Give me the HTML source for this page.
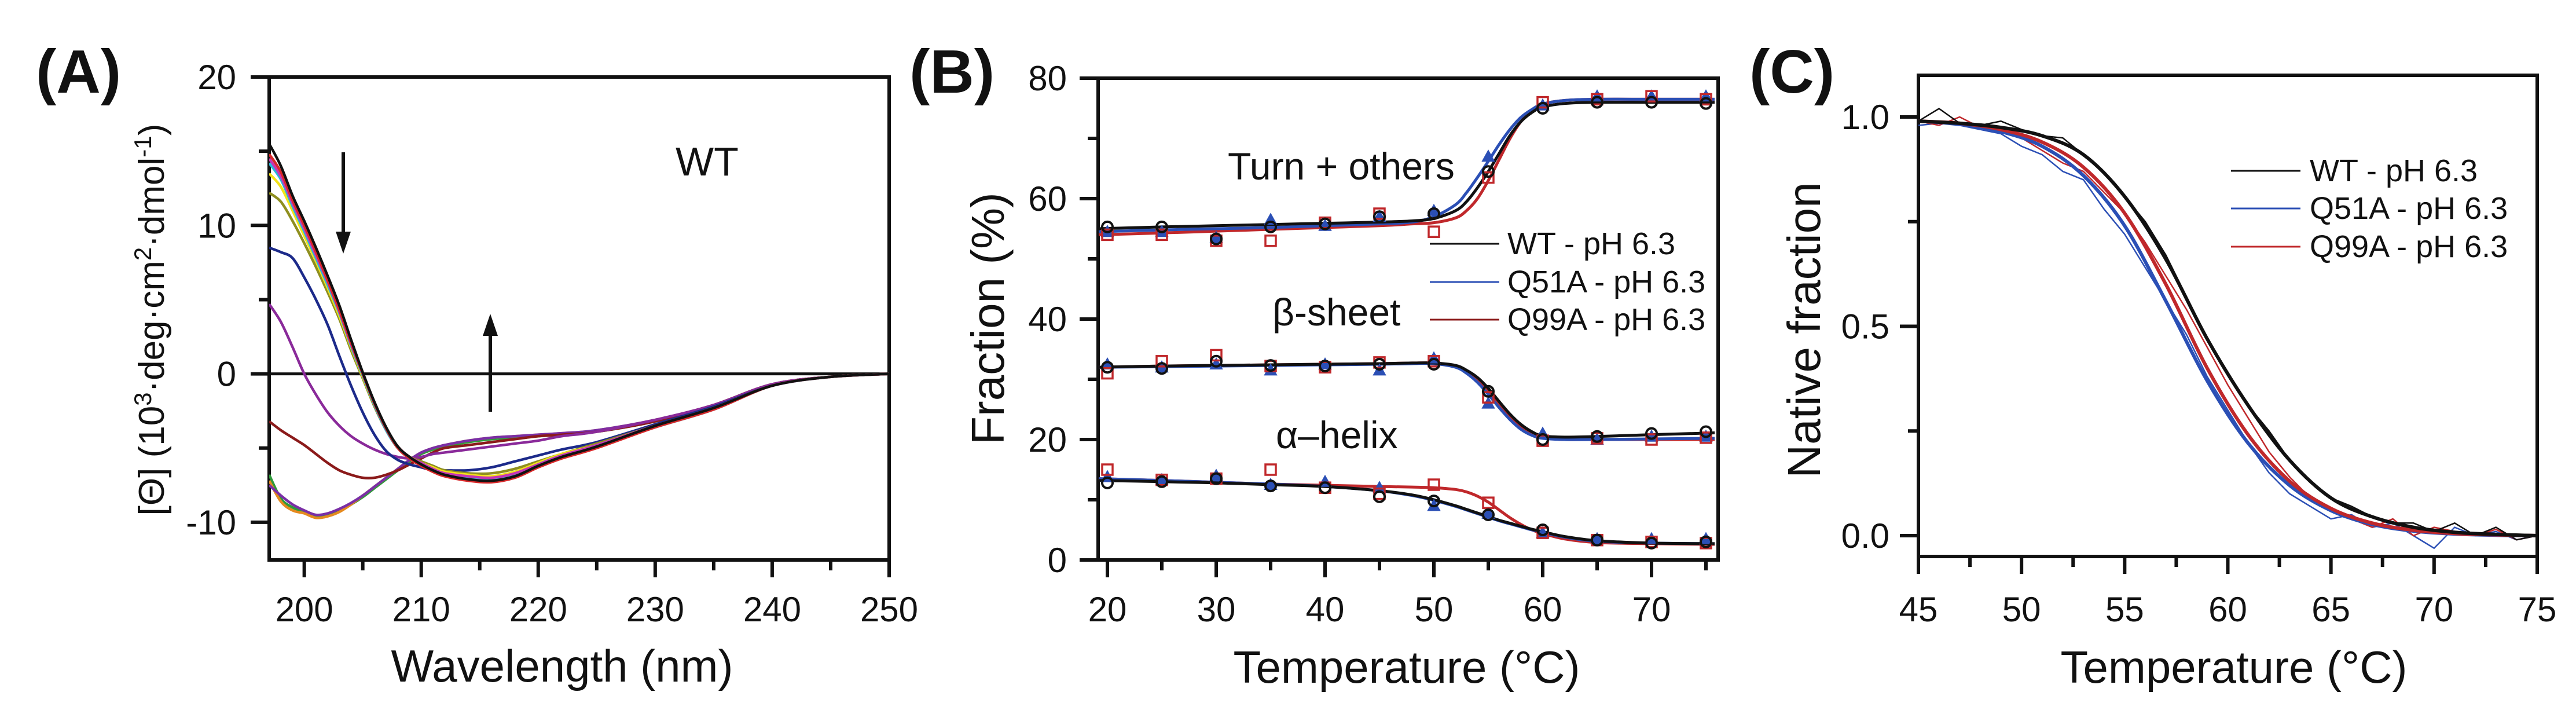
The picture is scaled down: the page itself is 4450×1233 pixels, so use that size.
<!DOCTYPE html>
<html><head><meta charset="utf-8"><style>
html,body{margin:0;padding:0;background:#fff;}
svg{display:block;font-family:"Liberation Sans",Arial,sans-serif;}
</style></head><body>
<svg id="fig" width="4450" height="1233" viewBox="0 0 4450 1233" xmlns="http://www.w3.org/2000/svg">
<rect width="4450" height="1233" fill="#fff"/>
<g id="pA"></g>
<g id="pB"></g>
<g id="pC"></g>
</svg>
<script>
// ---------- Panel A data ----------
const aWavelength=[197,198,199,200,201,202,203,204,205,206,207,208,209,210,211,212,214,216,218,220,222,225,230,235,240,245,250];
const aNativeBlack=[15.5,14,12,10.3,8.5,6.6,4.6,2.3,0.1,-1.9,-3.6,-4.9,-5.6,-6.1,-6.5,-6.8,-7.1,-7.2,-6.9,-6.2,-5.6,-4.9,-3.5,-2.3,-0.8,-0.2,0];
const aNativeRed=[14.8,13.6,11.7,10,8.2,6.3,4.3,2.1,0,-2,-3.7,-5,-5.7,-6.2,-6.6,-6.9,-7.2,-7.3,-7,-6.3,-5.7,-5,-3.6,-2.4,-0.8,-0.2,0];
const aNativeCyan=[14.2,13.1,11.3,9.6,7.8,6,4.1,1.9,-0.1,-2.1,-3.8,-5,-5.7,-6.1,-6.5,-6.8,-7,-7.1,-6.8,-6.1,-5.5,-4.9,-3.6,-2.4,-0.8,-0.2,0];
const aNativeMagenta=[14.5,13.3,11.5,9.8,8,6.2,4.2,2,0,-2,-3.7,-4.9,-5.6,-6,-6.4,-6.7,-6.9,-7,-6.7,-6.1,-5.5,-4.8,-3.5,-2.3,-0.8,-0.2,0];
const aNativeYellow=[13.5,12.6,11,9.3,7.6,5.8,3.9,1.8,-0.2,-2.1,-3.7,-4.9,-5.6,-6,-6.3,-6.6,-6.8,-6.9,-6.6,-6,-5.4,-4.8,-3.5,-2.3,-0.8,-0.2,0];
const aNativeOlive=[12.2,11.6,10.3,8.8,7.2,5.5,3.7,1.6,-0.3,-2.2,-3.8,-5,-5.6,-5.9,-6.2,-6.5,-6.7,-6.7,-6.4,-5.9,-5.4,-4.7,-3.5,-2.3,-0.8,-0.2,0];
const aNavy=[8.5,8.2,7.8,6.5,5,3.3,1.2,-0.8,-2.6,-4.1,-5.2,-5.8,-6.1,-6.3,-6.5,-6.5,-6.5,-6.3,-5.9,-5.5,-5.1,-4.6,-3.4,-2.2,-0.8,-0.2,0];
const aPurpleMid=[4.7,3.5,1.8,0,-1.4,-2.6,-3.5,-4.2,-4.7,-5.1,-5.4,-5.6,-5.7,-5.6,-5.4,-5.3,-5.1,-4.9,-4.7,-4.5,-4.2,-3.9,-3.1,-2.1,-0.7,-0.2,0];
const aDarkRed=[-3.2,-3.8,-4.3,-4.8,-5.4,-6,-6.5,-6.8,-7,-7,-6.8,-6.5,-6.1,-5.7,-5.3,-5,-4.8,-4.6,-4.4,-4.2,-4.1,-3.9,-3.2,-2.1,-0.7,-0.2,0];
const aDenatGreen=[-6.8,-8.4,-9,-9.3,-9.6,-9.5,-9.2,-8.8,-8.3,-7.7,-7.1,-6.5,-5.9,-5.4,-5.1,-4.9,-4.6,-4.4,-4.3,-4.2,-4.1,-3.9,-3.2,-2.1,-0.7,-0.2,0];
const aDenatOrange=[-7.2,-8.6,-9.2,-9.4,-9.7,-9.6,-9.3,-8.8,-8.2,-7.6,-7,-6.4,-5.8,-5.3,-5,-4.8,-4.5,-4.3,-4.2,-4.1,-4,-3.8,-3.1,-2.1,-0.7,-0.2,0];
const aDenatPurple=[-7.5,-8.2,-8.8,-9.2,-9.5,-9.4,-9.1,-8.7,-8.2,-7.6,-7,-6.4,-5.8,-5.3,-5,-4.8,-4.5,-4.3,-4.2,-4.1,-4,-3.8,-3.1,-2.1,-0.7,-0.2,0];
const aXTicks=[200,210,220,230,240,250];
const aYTicks=[-10,0,10,20];

// ---------- Panel B data ----------
const bTemps=[20,25,30,35,40,45,50,55,60,65,70,75];
const bTurnWT=[55.3,55.3,53.3,55.3,55.8,57,57.5,64.5,75,76,76,75.8];
const bTurnQ51A=[54.5,54.5,53.5,56.5,55.5,57,58,67,75.5,77,77,77];
const bTurnQ99A=[54,54,53,53,56,57.5,54.5,63.5,76,76.5,77,76.5];
const bSheetWT=[32,31.8,33,32.3,32.2,32.5,32.5,28,20,20.5,21,21.3];
const bSheetQ51A=[32.5,32,32.5,31.5,32.5,31.5,33.5,26,21,20,20.5,20.5];
const bSheetQ99A=[31,33,34,32.2,32,32.8,33,27,19.8,20.2,20,20.3];
const bHelixWT=[12.8,13,13.5,12.3,12,10.5,9.8,7.5,5,3.3,2.8,3];
const bHelixQ51A=[13.8,13.3,14,12.5,13,12,9,7.7,4.5,3.5,3.5,3.5];
const bHelixQ99A=[15,13.3,13.5,15,12,11,12.5,9.5,4.5,3.3,3,2.8];
const bFitT=[19.2,25,30,35,40,45,48,50,52,53,54,55,56,57,58,59,60,62,65,70,75.8];
const bFitTurnWT=[55,55.3,55.5,55.7,55.9,56.1,56.3,56.7,58,59.5,61.8,64.5,67.5,70.5,72.8,74.3,75.2,75.8,76,76,76];
const bFitTurnQ51A=[54.5,54.8,55,55.2,55.5,55.8,56.1,57,59,61,63.5,66.2,69,71.5,73.5,74.8,75.7,76.3,76.5,76.5,76.5];
const bFitTurnQ99A=[54,54.3,54.6,54.9,55.2,55.5,55.8,56,56.8,58,60,63,66.5,70,72.8,74.6,75.7,76.3,76.5,76.5,76.5];
const bFitSheetWT=[32,32.2,32.3,32.4,32.5,32.6,32.7,32.7,32.3,31.5,30.3,28.5,26.3,24.2,22.5,21.3,20.6,20.4,20.5,20.8,21.1];
const bFitSheetQ51A=[32,32.1,32.2,32.3,32.4,32.5,32.6,32.6,32,31,29.5,27.5,25.3,23.3,21.7,20.7,20.2,20,20,20.1,20.2];
const bFitSheetQ99A=[32,32.2,32.3,32.4,32.5,32.6,32.7,32.7,32.2,31.3,30,28,25.8,23.7,22,20.9,20.3,20,20,20,20];
const bFitHelixWT=[13.2,13,12.8,12.5,12.2,11.5,10.8,10,9,8.4,7.8,7.2,6.6,6.1,5.6,5.1,4.7,3.9,3.2,2.8,2.7];
const bFitHelixQ51A=[13.5,13.2,12.9,12.6,12.2,11.5,10.7,9.9,8.9,8.3,7.7,7.1,6.5,6,5.5,5,4.6,3.8,3.1,2.8,2.7];
const bFitHelixQ99A=[13.5,13.2,12.9,12.6,12.4,12.2,12.1,12,11.7,11.3,10.6,9.6,8.3,7,5.9,5,4.4,3.5,2.9,2.7,2.6];
const bXTicks=[20,30,40,50,60,70];
const bYTicks=[0,20,40,60,80];

// ---------- Panel C data ----------
const cTemps=[45,46,47,48,49,50,51,52,53,54,55,56,57,58,59,60,61,62,63,64,65,66,67,68,69,70,71,72,73,74,75];
const cDataWT=[0.99,1.02,0.985,0.98,0.99,0.97,0.955,0.95,0.91,0.87,0.81,0.75,0.67,0.57,0.47,0.39,0.31,0.25,0.18,0.13,0.09,0.07,0.045,0.03,0.03,0.01,0.03,0.0,0.02,-0.01,0];
const cDataQ51A=[0.98,0.985,0.98,0.97,0.96,0.93,0.91,0.87,0.85,0.78,0.72,0.64,0.56,0.48,0.38,0.3,0.22,0.15,0.1,0.07,0.04,0.05,0.02,0.03,0.0,-0.03,0.02,0.0,0.01,-0.01,0];
const cDataQ99A=[0.99,0.98,1.0,0.975,0.965,0.95,0.92,0.89,0.87,0.82,0.77,0.7,0.62,0.54,0.45,0.36,0.28,0.2,0.14,0.09,0.06,0.04,0.02,0.04,0.0,0.02,0.01,0,0.015,-0.01,0];
const cFitT=[45,47,49,51,53,55,57,59,61,63,65,67,69,71,73,75];
const cFitWT=[0.99,0.985,0.975,0.955,0.91,0.81,0.66,0.47,0.31,0.18,0.09,0.045,0.02,0.008,0.003,0];
const cFitQ99A=[0.99,0.985,0.97,0.94,0.88,0.77,0.6,0.4,0.24,0.13,0.065,0.03,0.013,0.005,0.002,0];
const cFitQ51A=[0.99,0.983,0.965,0.93,0.86,0.74,0.56,0.37,0.22,0.12,0.06,0.027,0.011,0.004,0.001,0];
const cXTicks=[45,50,55,60,65,70,75];
const cYTicks=[0.0,0.5,1.0];

const NS="http://www.w3.org/2000/svg";
function mk(parent,tag,attrs,name,inter){const e=document.createElementNS(NS,tag);for(const k in attrs)e.setAttribute(k,attrs[k]);


parent.appendChild(e);return e;}
function txt(parent,x,y,s,size,name,extra){const t=mk(parent,'text',Object.assign({x:x,y:y,'font-size':size,fill:'#111'},extra||{}),name,false);t.textContent=s;return t;}
function lin(a,b,c,d){return v=>c+(v-a)*(d-c)/(b-a);}
function smooth(pts){let d='M'+pts[0][0]+','+pts[0][1];for(let i=0;i<pts.length-1;i++){const p0=pts[Math.max(0,i-1)],p1=pts[i],p2=pts[i+1],p3=pts[Math.min(pts.length-1,i+2)];
const c1x=p1[0]+(p2[0]-p0[0])/6,c1y=p1[1]+(p2[1]-p0[1])/6,c2x=p2[0]-(p3[0]-p1[0])/6,c2y=p2[1]-(p3[1]-p1[1])/6;d+=' C'+c1x+','+c1y+' '+c2x+','+c2y+' '+p2[0]+','+p2[1];}return d;}
function poly(pts){return 'M'+pts.map(p=>p[0]+','+p[1]).join(' L');}
function frame(g,L,T,R,B,name){mk(g,'rect',{x:L,y:T,width:R-L,height:B-T,fill:'none',stroke:'#111','stroke-width':6},name,false);}

// ================= Panel A =================
(function(){const g=document.getElementById('pA');
const L=465,R=1536,T=133,B=967;const X=lin(197,250,L,R),Y=lin(20,-12.54,T,B);
frame(g,L,T,R,B,'plot-frame-a');
const clip=mk(g,'clipPath',{id:'clipA'},'clip-a',false);mk(clip,'rect',{x:L,y:T,width:R-L,height:B-T},'clip-rect-a',false);
mk(g,'line',{x1:433,x2:R,y1:Y(0),y2:Y(0),stroke:'#111','stroke-width':5},'zero-line',false);
for(let v=200;v<=250;v+=5){const maj=v%10===0;mk(g,'line',{x1:X(v),x2:X(v),y1:B,y2:B+(maj?30:18),stroke:'#111','stroke-width':6},maj?'x-tick-a':'x-minor-tick-a',false);}
aXTicks.forEach(v=>txt(g,X(v),1073,String(v),60,'x-tick-label-a',{'text-anchor':'middle'}));
for(let v=-10;v<=20;v+=5){const maj=v%10===0;mk(g,'line',{x1:L,x2:L-(maj?32:18),y1:Y(v),y2:Y(v),stroke:'#111','stroke-width':6},maj?'y-tick-a':'y-minor-tick-a',false);}
aYTicks.forEach(v=>txt(g,408,Y(v)+21,String(v),60,'y-tick-label-a',{'text-anchor':'end'}));
const cg=mk(g,'g',{'clip-path':'url(#clipA)',fill:'none','stroke-width':4.5,'stroke-linejoin':'round'},'spectra',false);
const series=[[aDenatGreen,'#2e9a3a'],[aDenatOrange,'#e58a1f'],[aDenatPurple,'#7a2fa6'],[aDarkRed,'#8b1a1a'],[aPurpleMid,'#8a2a9a'],[aNavy,'#1c2a8a'],[aNativeOlive,'#8f8f1f'],[aNativeYellow,'#f2e21a'],[aNativeCyan,'#27b8d8'],[aNativeMagenta,'#c535b5'],[aNativeRed,'#d8282a'],[aNativeBlack,'#111']];
series.forEach(s=>{const pts=aWavelength.map((w,i)=>[X(w),Y(s[0][i])]);mk(cg,'path',{d:smooth(pts),stroke:s[1]},'cd-spectrum',false);});
mk(g,'line',{x1:593,x2:593,y1:263,y2:410,stroke:'#111','stroke-width':6},'arrow-down-shaft',false);
mk(g,'path',{d:'M580,400 L606,400 L593,438 Z',fill:'#111'},'arrow-down-head',false);
mk(g,'line',{x1:847,x2:847,y1:711,y2:570,stroke:'#111','stroke-width':6},'arrow-up-shaft',false);
mk(g,'path',{d:'M834,580 L860,580 L847,542 Z',fill:'#111'},'arrow-up-head',false);
txt(g,1167,303,'WT',70,'sample-label-wt');
txt(g,62,160,'(A)',106,'panel-label-a',{'font-weight':'bold'});
txt(g,971,1177,'Wavelength (nm)',78,'x-axis-title-a',{'text-anchor':'middle'});
const yt=txt(g,0,0,'',62,'y-axis-title-a',{'text-anchor':'middle',transform:'translate(283,552) rotate(-90)'});
yt.innerHTML='[&#920;] (10<tspan dy="-22" font-size="42">3</tspan><tspan dy="22">·deg·cm</tspan><tspan dy="-22" font-size="42">2</tspan><tspan dy="22">·dmol</tspan><tspan dy="-22" font-size="42">-1</tspan><tspan dy="22">)</tspan>';
})();

// ================= Panel B =================
(function(){const g=document.getElementById('pB');
const L=1897,R=2968,T=135,B=967;const X=lin(20,30,1913,2101),Y=lin(0,80,B,T);
frame(g,L,T,R,B,'plot-frame-b');
for(let v=20;v<=75;v+=5){const maj=v%10===0;mk(g,'line',{x1:X(v),x2:X(v),y1:B,y2:B+(maj?30:18),stroke:'#111','stroke-width':6},maj?'x-tick-b':'x-minor-tick-b',false);}
bXTicks.forEach(v=>txt(g,X(v),1073,String(v),60,'x-tick-label-b',{'text-anchor':'middle'}));
for(let v=0;v<=80;v+=10){const maj=v%20===0;mk(g,'line',{x1:L,x2:L-(maj?32:18),y1:Y(v),y2:Y(v),stroke:'#111','stroke-width':6},maj?'y-tick-b':'y-minor-tick-b',false);}
bYTicks.forEach(v=>txt(g,1843,Y(v)+21,String(v),60,'y-tick-label-b',{'text-anchor':'end'}));
const fits=[[bFitTurnQ99A,'#c0282b'],[bFitTurnQ51A,'#2b4fb5'],[bFitTurnWT,'#111'],[bFitSheetQ99A,'#c0282b'],[bFitSheetQ51A,'#2b4fb5'],[bFitSheetWT,'#111'],[bFitHelixQ99A,'#c0282b'],[bFitHelixQ51A,'#2b4fb5'],[bFitHelixWT,'#111']];
fits.forEach(f=>{const pts=bFitT.map((t,i)=>[X(t),Y(f[0][i])]);mk(g,'path',{d:smooth(pts),fill:'none',stroke:f[1],'stroke-width':5},'fit-curve-b',false);});
[bTurnQ51A,bSheetQ51A,bHelixQ51A].forEach(arr=>bTemps.forEach((t,i)=>{const x=X(t),y=Y(arr[i]);mk(g,'path',{d:`M${x},${y-10} L${x+10},${y+8} L${x-10},${y+8} Z`,fill:'#2b4fb5',stroke:'#2b4fb5','stroke-width':2},'marker-q51a',false);}));
[bTurnQ99A,bSheetQ99A,bHelixQ99A].forEach(arr=>bTemps.forEach((t,i)=>{mk(g,'rect',{x:X(t)-9,y:Y(arr[i])-9,width:18,height:18,fill:'none',stroke:'#c0282b','stroke-width':3.5},'marker-q99a',false);}));
[bTurnWT,bSheetWT,bHelixWT].forEach(arr=>bTemps.forEach((t,i)=>{mk(g,'circle',{cx:X(t),cy:Y(arr[i]),r:9,fill:'none',stroke:'#111','stroke-width':4},'marker-wt',false);}));
txt(g,2121,310,'Turn + others',66,'label-turn');
txt(g,2198,562,'β-sheet',66,'label-beta-sheet');
txt(g,2204,774,'α–helix',66,'label-alpha-helix');
const leg=mk(g,'g',{},'legend-b',false);
[['WT - pH 6.3','#111'],['Q51A - pH 6.3','#2b4fb5'],['Q99A - pH 6.3','#8b1a1a']].forEach((e,i)=>{const y=[439,505,570][i];
mk(leg,'line',{x1:2470,x2:2590,y1:y-18,y2:y-18,stroke:e[1],'stroke-width':3},'legend-line-b',false);
txt(leg,2604,y,e[0],54,'legend-entry-b');});
txt(g,1571,160,'(B)',106,'panel-label-b',{'font-weight':'bold'});
txt(g,2430,1179,'Temperature (°C)',78,'x-axis-title-b',{'text-anchor':'middle'});
txt(g,0,0,'Fraction (%)',80,'y-axis-title-b',{'text-anchor':'middle',transform:'translate(1734,550) rotate(-90)'});
})();

// ================= Panel C =================
(function(){const g=document.getElementById('pC');
const L=3314,R=4383,T=130,B=961;const X=lin(45,75,L,R),Y=lin(0,1,925,202);
frame(g,L,T,R,B,'plot-frame-c');
const clip=mk(g,'clipPath',{id:'clipC'},'clip-c',false);mk(clip,'rect',{x:L,y:T,width:R-L,height:B-T},'clip-rect-c',false);
for(let v=45;v<=75;v+=2.5){const maj=v%5===0;mk(g,'line',{x1:X(v),x2:X(v),y1:B,y2:B+(maj?30:18),stroke:'#111','stroke-width':6},maj?'x-tick-c':'x-minor-tick-c',false);}
cXTicks.forEach(v=>txt(g,X(v),1073,String(v),60,'x-tick-label-c',{'text-anchor':'middle'}));
for(let v=0;v<=1.0001;v+=0.25){const maj=Math.abs(v*2-Math.round(v*2))<1e-6;mk(g,'line',{x1:L,x2:L-(maj?32:18),y1:Y(v),y2:Y(v),stroke:'#111','stroke-width':6},maj?'y-tick-c':'y-minor-tick-c',false);}
cYTicks.forEach(v=>txt(g,3264,Y(v)+21,v.toFixed(1),60,'y-tick-label-c',{'text-anchor':'end'}));
const cg=mk(g,'g',{'clip-path':'url(#clipC)',fill:'none'},'series-c',false);
[[cDataQ51A,'#2b4fb5'],[cDataQ99A,'#c0282b'],[cDataWT,'#111']].forEach(s=>{const pts=cTemps.map((t,i)=>[X(t),Y(s[0][i])]);mk(cg,'path',{d:poly(pts),stroke:s[1],'stroke-width':2.5},'raw-data-c',false);});
[[cFitQ51A,'#2b4fb5'],[cFitQ99A,'#c0282b'],[cFitWT,'#111']].forEach(s=>{const pts=cFitT.map((t,i)=>[X(t),Y(s[0][i])]);mk(cg,'path',{d:smooth(pts),stroke:s[1],'stroke-width':6},'fit-curve-c',false);});
const leg=mk(g,'g',{},'legend-c',false);
[['WT - pH 6.3','#111'],['Q51A - pH 6.3','#2b4fb5'],['Q99A - pH 6.3','#c0282b']].forEach((e,i)=>{const y=[313,378,444][i];
mk(leg,'line',{x1:3854,x2:3974,y1:y-18,y2:y-18,stroke:e[1],'stroke-width':3},'legend-line-c',false);
txt(leg,3990,y,e[0],54,'legend-entry-c');});
txt(g,3022,160,'(C)',106,'panel-label-c',{'font-weight':'bold'});
txt(g,3859,1179,'Temperature (°C)',78,'x-axis-title-c',{'text-anchor':'middle'});
txt(g,0,0,'Native fraction',80,'y-axis-title-c',{'text-anchor':'middle',transform:'translate(3144,570) rotate(-90)'});
})();
</script>
</body></html>
